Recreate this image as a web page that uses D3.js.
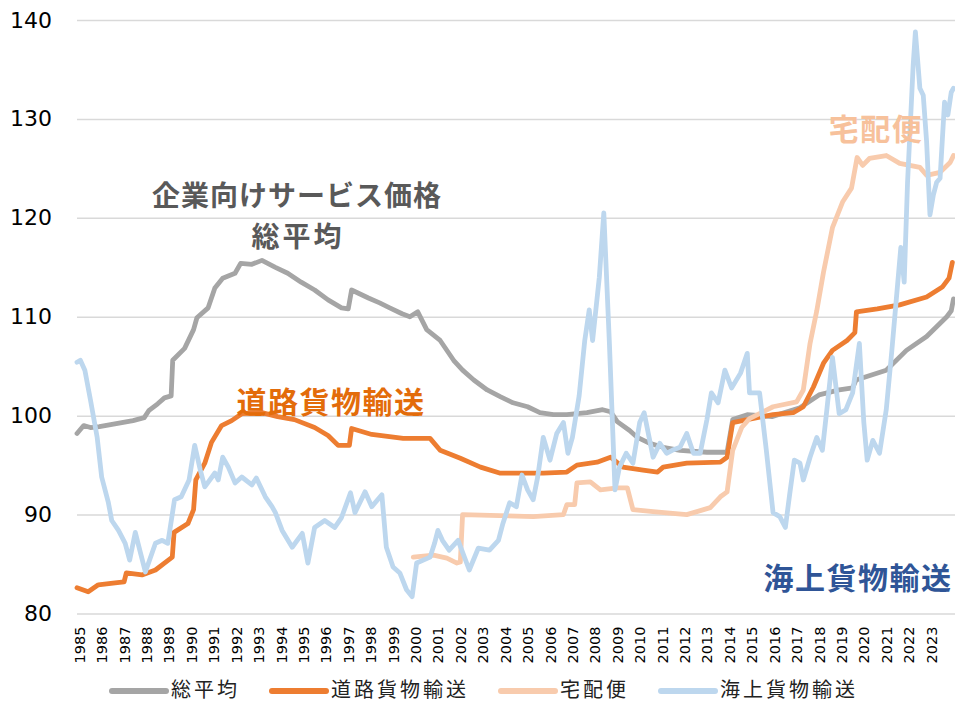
<!DOCTYPE html>
<html>
<head>
<meta charset="utf-8">
<script src="https://cdn.jsdelivr.net/npm/d3@7"></script>
<style>
  body { margin: 0; background: #fff; }
  text { font-family: "Noto Sans CJK JP", "Noto Sans", sans-serif; }
</style>
</head>
<body>
<svg width="955" height="703"></svg>
<script>
// 目盛り
let yTicks = [80, 90, 100, 110, 120, 130, 140];
let yearLabels = d3.range(1985, 2024);
let seriesNames = ["総平均", "道路貨物輸送", "宅配便", "海上貨物輸送"];

// [年(小数), 指数]  グラフから読み取った値
let sogo = [
  [1985.0, 98.2], [1985.3, 99.0], [1985.6, 98.8], [1986.0, 98.9], [1986.5, 99.1], [1987.0, 99.3],
  [1987.5, 99.5], [1988.0, 99.8], [1988.2, 100.5], [1988.6, 101.2], [1988.9, 101.8], [1989.2, 102.0],
  [1989.27, 105.6], [1989.8, 106.8], [1990.2, 108.7], [1990.35, 109.9], [1990.85, 110.9], [1991.15, 112.9],
  [1991.5, 113.9], [1992.05, 114.4], [1992.3, 115.4], [1992.8, 115.3], [1993.25, 115.7], [1993.85, 115.0],
  [1994.4, 114.4], [1995.0, 113.5], [1995.6, 112.7], [1996.2, 111.7], [1996.8, 110.9], [1997.1, 110.8],
  [1997.25, 112.7], [1998.0, 111.9], [1998.5, 111.4], [1998.95, 110.9], [1999.5, 110.3], [1999.85, 110.0],
  [2000.2, 110.5], [2000.6, 108.7], [2001.2, 107.6], [2001.8, 105.6], [2002.2, 104.6], [2002.7, 103.6],
  [2003.3, 102.6], [2003.9, 101.9], [2004.45, 101.3], [2005.1, 100.9], [2005.65, 100.3], [2006.25, 100.1],
  [2006.85, 100.1], [2007.75, 100.3], [2008.45, 100.6], [2008.8, 100.4], [2009.1, 99.4], [2009.65, 98.5],
  [2010.0, 97.8], [2010.55, 97.2], [2011.15, 96.8], [2011.9, 96.5], [2013.1, 96.3], [2014.0, 96.3],
  [2014.25, 99.6], [2014.9, 100.1], [2016.0, 99.9], [2017.25, 100.8], [2018.1, 102.1], [2019.0, 102.6],
  [2019.6, 102.8], [2019.75, 103.6], [2021.1, 104.6], [2022.0, 106.6], [2022.9, 108.0], [2023.8, 110.0],
  [2024.0, 110.6], [2024.1, 111.8]
];

let doro = [
  [1985.0, 82.6], [1985.5, 82.2], [1985.95, 82.9], [1986.7, 83.1], [1987.1, 83.2], [1987.2, 84.1],
  [1987.9, 83.9], [1988.5, 84.4], [1988.9, 85.1], [1989.25, 85.7], [1989.33, 88.2], [1989.95, 89.1],
  [1990.2, 90.5], [1990.3, 93.5], [1990.7, 95.2], [1991.0, 97.3], [1991.45, 99.0], [1991.9, 99.5],
  [1992.35, 100.2], [1993.25, 100.3], [1993.95, 99.9], [1994.7, 99.6], [1995.6, 98.8], [1996.2, 98.0],
  [1996.65, 97.0], [1997.15, 97.0], [1997.25, 98.7], [1998.15, 98.1], [1999.55, 97.7], [2000.75, 97.7],
  [2001.2, 96.5], [2002.1, 95.7], [2003.0, 94.8], [2003.85, 94.2], [2004.75, 94.2], [2005.8, 94.2],
  [2006.85, 94.3], [2007.3, 95.0], [2008.2, 95.3], [2008.8, 95.8], [2009.35, 94.8], [2010.25, 94.5],
  [2010.9, 94.3], [2011.15, 94.8], [2012.2, 95.2], [2013.7, 95.3], [2014.0, 95.8], [2014.25, 99.3],
  [2014.9, 99.6], [2016.05, 100.1], [2016.95, 100.3], [2017.4, 100.9], [2017.85, 102.9], [2018.3, 105.3],
  [2018.7, 106.6], [2019.35, 107.6], [2019.7, 108.4], [2019.77, 110.5], [2020.7, 110.8], [2021.7, 111.2],
  [2022.9, 112.0], [2023.6, 113.0], [2023.9, 113.9], [2024.05, 115.5]
];

let takuhai = [
  [2000.0, 85.7], [2000.9, 85.9], [2001.5, 85.6], [2001.95, 85.1], [2002.1, 85.2], [2002.2, 90.0],
  [2003.85, 89.9], [2005.35, 89.8], [2006.7, 90.0], [2006.85, 91.0], [2007.2, 91.0], [2007.3, 93.2],
  [2007.9, 93.3], [2008.35, 92.5], [2009.1, 92.7], [2009.55, 92.7], [2009.8, 90.5], [2010.7, 90.3],
  [2012.2, 90.0], [2013.25, 90.7], [2013.7, 91.8], [2014.0, 92.3], [2014.25, 96.5], [2014.65, 98.8],
  [2015.0, 99.7], [2016.05, 100.9], [2017.1, 101.4], [2017.4, 102.6], [2017.7, 107.3], [2018.0, 110.6],
  [2018.3, 114.5], [2018.7, 119.0], [2019.15, 121.6], [2019.55, 123.0], [2019.8, 126.1], [2020.05, 125.3],
  [2020.35, 126.0], [2021.1, 126.3], [2021.7, 125.5], [2022.6, 125.1], [2022.9, 124.3], [2023.5, 124.6],
  [2023.95, 125.6], [2024.1, 126.3]
];

let kaijo = [
  [1985.0, 105.4], [1985.15, 105.6], [1985.35, 104.6], [1985.6, 101.6], [1985.9, 97.8], [1986.1, 93.8],
  [1986.4, 91.2], [1986.55, 89.4], [1986.85, 88.4], [1987.15, 87.1], [1987.35, 85.4], [1987.6, 88.2],
  [1987.8, 86.4], [1988.05, 84.2], [1988.5, 87.1], [1988.8, 87.4], [1989.05, 87.1], [1989.35, 91.5],
  [1989.65, 91.8], [1990.0, 93.5], [1990.25, 97.0], [1990.5, 94.5], [1990.7, 92.8], [1991.15, 94.2],
  [1991.3, 93.5], [1991.5, 95.8], [1991.75, 94.8], [1992.05, 93.2], [1992.35, 93.8], [1992.8, 93.0],
  [1993.0, 93.7], [1993.4, 91.8], [1993.7, 90.8], [1993.85, 90.2], [1994.15, 88.4], [1994.6, 86.7],
  [1995.05, 88.1], [1995.3, 85.1], [1995.6, 88.7], [1996.05, 89.4], [1996.5, 88.7], [1996.8, 89.7],
  [1997.2, 92.2], [1997.4, 90.2], [1997.85, 92.3], [1998.15, 90.8], [1998.6, 92.0], [1998.8, 86.7],
  [1999.1, 84.7], [1999.4, 84.1], [1999.7, 82.4], [1999.95, 81.7], [2000.15, 85.1], [2000.75, 85.7],
  [2000.95, 87.1], [2001.1, 88.4], [2001.3, 87.4], [2001.6, 86.4], [2002.0, 87.4], [2002.5, 84.4],
  [2002.9, 86.6], [2003.4, 86.4], [2003.8, 87.4], [2004.0, 89.1], [2004.3, 91.2], [2004.6, 90.8],
  [2004.85, 94.0], [2005.1, 92.5], [2005.35, 91.5], [2005.55, 93.8], [2005.8, 97.8], [2006.1, 95.5],
  [2006.4, 98.2], [2006.7, 99.3], [2006.9, 96.2], [2007.1, 97.8], [2007.4, 102.0], [2007.65, 107.6],
  [2007.85, 110.7], [2008.0, 107.6], [2008.3, 114.0], [2008.5, 120.5], [2008.75, 107.3], [2009.0, 92.5],
  [2009.2, 94.8], [2009.5, 96.2], [2009.8, 95.2], [2010.1, 99.3], [2010.3, 100.3], [2010.7, 95.8],
  [2011.0, 97.2], [2011.3, 96.2], [2011.55, 96.5], [2011.9, 96.8], [2012.2, 98.2], [2012.5, 96.2],
  [2012.8, 96.2], [2013.1, 99.6], [2013.3, 102.3], [2013.6, 101.3], [2013.9, 104.6], [2014.2, 102.8],
  [2014.6, 104.3], [2014.9, 106.3], [2015.0, 102.3], [2015.45, 102.3], [2015.75, 96.5], [2016.05, 90.2],
  [2016.35, 89.8], [2016.6, 88.7], [2016.8, 92.2], [2017.0, 95.5], [2017.25, 95.2], [2017.4, 93.5],
  [2017.7, 95.8], [2018.0, 97.8], [2018.25, 96.5], [2018.45, 100.6], [2018.7, 105.9], [2019.0, 100.2],
  [2019.3, 100.6], [2019.6, 102.3], [2019.9, 107.3], [2020.1, 99.3], [2020.25, 95.5], [2020.5, 97.5],
  [2020.8, 96.2], [2021.1, 100.6], [2021.35, 106.6], [2021.5, 110.5], [2021.75, 117.0], [2021.9, 113.5],
  [2022.05, 123.6], [2022.3, 135.4], [2022.4, 138.8], [2022.6, 133.1], [2022.75, 132.4], [2022.9, 127.7],
  [2023.05, 120.3], [2023.2, 122.3], [2023.35, 123.6], [2023.5, 124.0], [2023.7, 131.7], [2023.85, 130.4],
  [2024.0, 132.7], [2024.1, 133.1]
];

let seriesData = [sogo, doro, takuhai, kaijo];

let color = d3.scaleOrdinal()
  .domain(seriesNames)
  .range(["#a5a5a5", "#ed7d31", "#f8cbad", "#bdd7ee"]);

let svg = d3.select("svg"),
    width = +svg.attr("width"),
    height = +svg.attr("height");

let plotLeft = 77, plotRight = 955, plotTop = 20, plotBottom = 613.5;

let x = d3.scaleLinear().domain([1985, 2024 + 2 / 12]).range([plotLeft, plotRight]);
let y = d3.scaleLinear().domain([80, 140]).range([plotBottom, plotTop]);

// 目盛線と縦軸
let yAxis = svg.append("g")
  .attr("transform", `translate(${plotLeft},0)`)
  .call(d3.axisLeft(y).tickValues(yTicks).tickSize(-(plotRight - plotLeft)).tickPadding(25));
yAxis.select(".domain").remove();
yAxis.selectAll(".tick line").attr("stroke", "#d9d9d9").attr("stroke-width", 1.5);
yAxis.selectAll(".tick text")
  .style("font-family", "DejaVu Sans")
  .style("font-size", "22px")
  .attr("fill", "#000");

// 横軸 (年)
let xAxis = svg.append("g")
  .attr("transform", `translate(0,${plotBottom})`)
  .call(d3.axisBottom(x).tickValues(yearLabels.map(d => d + 0.1)).tickSize(0).tickFormat((d, i) => yearLabels[i]));
xAxis.select(".domain").remove();
xAxis.selectAll(".tick text")
  .attr("x", 0).attr("y", 0).attr("dy", "0.35em")
  .attr("transform", "translate(0,13) rotate(-90)")
  .style("text-anchor", "end")
  .style("font-family", "DejaVu Sans")
  .style("font-size", "14.5px")
  .attr("fill", "#000");

// 系列
let line = d3.line()
  .x(d => x(d[0]))
  .y(d => y(d[1]));

svg.selectAll(".series")
  .data(seriesData)
  .enter().append("path")
  .attr("class", "series")
  .attr("d", line)
  .attr("fill", "none")
  .attr("stroke", (d, i) => color(seriesNames[i]))
  .attr("stroke-width", 4.8)
  .attr("stroke-linejoin", "round")
  .attr("stroke-linecap", "round");

// 注記
let notes = [
  {text: "企業向けサービス価格", x: 297, y: 194, size: 28, ls: 1, fill: "#595959"},
  {text: "総平均", x: 298, y: 235, size: 28, ls: 3, fill: "#595959"},
  {text: "道路貨物輸送", x: 331, y: 400, size: 30, ls: 1.5, fill: "#e36c0a"},
  {text: "宅配便", x: 876, y: 127, size: 30, ls: 1.5, fill: "#f7c19b"},
  {text: "海上貨物輸送", x: 858, y: 576, size: 30, ls: 1.5, fill: "#2f5597"}
];
svg.selectAll(".note")
  .data(notes)
  .enter().append("text")
  .attr("class", "note")
  .attr("x", d => d.x)
  .attr("y", d => d.y)
  .attr("dominant-baseline", "central")
  .attr("text-anchor", "middle")
  .style("font-size", d => d.size + "px")
  .style("font-weight", "bold")
  .style("letter-spacing", d => d.ls + "px")
  .attr("fill", d => d.fill)
  .text(d => d.text);

// 凡例
let legend = svg.append("g").attr("transform", "translate(0,688)");
let lx = 112;
seriesNames.forEach(name => {
  legend.append("line")
    .attr("x1", lx).attr("x2", lx + 54)
    .attr("y1", 3).attr("y2", 3)
    .attr("stroke", color(name))
    .attr("stroke-width", 6)
    .attr("stroke-linecap", "round");
  let t = legend.append("text")
    .attr("x", lx + 59)
    .attr("dominant-baseline", "central")
    .style("font-size", "20px")
    .style("letter-spacing", "3px")
    .attr("fill", "#222")
    .text(name);
  lx += 59 + t.node().getComputedTextLength() + 32;
});
</script>
</body>
</html>
